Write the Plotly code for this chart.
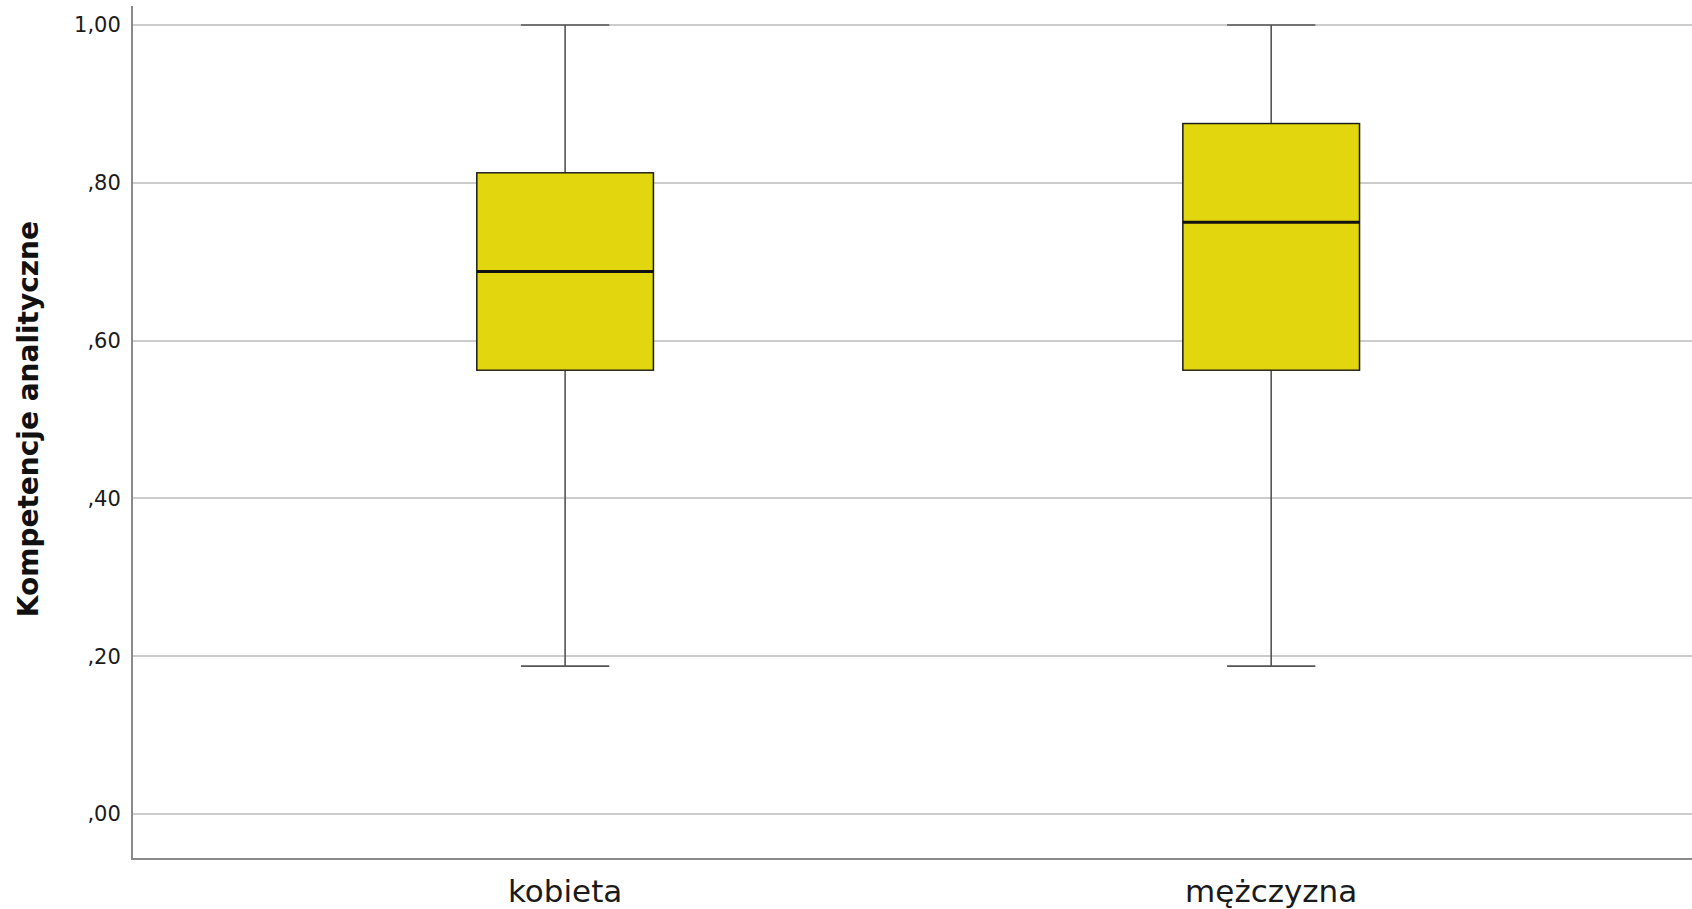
import plotly.graph_objects as go

categories = ["kobieta", "mężczyzna"]
lower_whisker = [0.1875, 0.1875]
q1 = [0.5625, 0.5625]
median = [0.6875, 0.75]
q3 = [0.8125, 0.875]
upper_whisker = [1.0, 1.0]
y_tickvals = [0.0, 0.2, 0.4, 0.6, 0.8, 1.0]
y_ticktext = [",00", ",20", ",40", ",60", ",80", "1,00"]
y_title = "Kompetencje analityczne"

pos = list(range(len(categories)))
box_w = 0.25
fill = "#E2D70E"

fig = go.Figure()
# whiskers (gray)
fig.add_trace(go.Box(
    x=pos, q1=q1, median=median, q3=q3,
    lowerfence=lower_whisker, upperfence=upper_whisker,
    width=box_w, whiskerwidth=0.5, fillcolor=fill,
    line=dict(color="#555555", width=1.6), boxpoints=False,
    hoverinfo="skip", showlegend=False))
# box body (black outline)
fig.add_trace(go.Box(
    x=pos, q1=q1, median=median, q3=q3,
    lowerfence=q1, upperfence=q3,
    width=box_w, whiskerwidth=0, fillcolor=fill,
    line=dict(color="#1a1a1a", width=1.4), boxpoints=False,
    hoverinfo="skip", showlegend=False))
# thicker median line
mx, my = [], []
for p, m in zip(pos, median):
    mx += [p - box_w / 2, p + box_w / 2, None]
    my += [m, m, None]
fig.add_trace(go.Scatter(x=mx, y=my, mode="lines",
                         line=dict(color="#111111", width=3),
                         hoverinfo="skip", showlegend=False))

fig.update_layout(
    width=1692, height=909,
    margin=dict(l=133, r=0, t=6, b=51),
    plot_bgcolor="white", paper_bgcolor="white",
    boxmode="overlay",
    font=dict(family="DejaVu Sans", color="#1a1a1a"),
    annotations=[dict(
        text=y_title, xref="paper", yref="paper",
        x=-105 / 1559, y=0.515, xanchor="center", yanchor="middle",
        textangle=-90, showarrow=False,
        font=dict(size=28, family="DejaVu Sans", color="#111111", weight="bold"))],
)
fig.update_xaxes(
    range=[-0.612, 1.596], tickvals=pos, ticktext=categories,
    showgrid=False, zeroline=False, showline=True,
    linecolor="#8a8a8a", linewidth=2, ticks="", ticklen=0,
    ticklabelstandoff=5,
    tickfont=dict(size=31, family="DejaVu Sans", color="#1a1a1a"),
)
fig.update_yaxes(
    range=[-0.0557, 1.024], tickvals=y_tickvals, ticktext=y_ticktext,
    showgrid=True, gridcolor="#cccccc", gridwidth=1.6,
    zeroline=False, showline=True, linecolor="#8a8a8a", linewidth=2,
    ticks="", ticklen=0, ticklabelstandoff=6,
    tickfont=dict(size=21, family="DejaVu Sans", color="#1a1a1a"),
)

fig.write_html("out.html", config={"displayModeBar": False},
               post_script="document.body.style.margin='0';")
